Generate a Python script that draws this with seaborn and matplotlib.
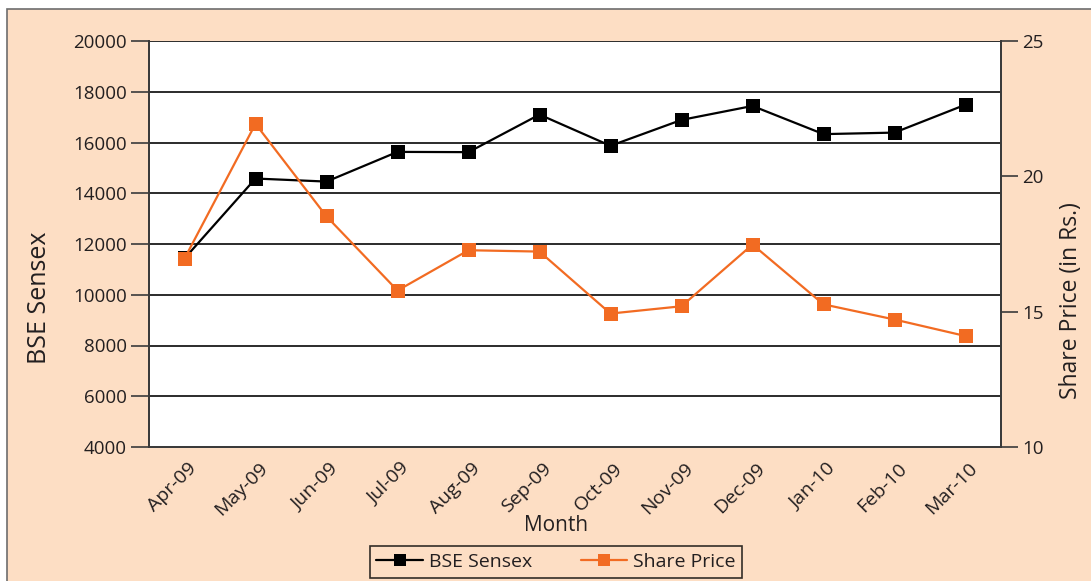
import matplotlib
matplotlib.use("Agg")
import matplotlib.pyplot as plt
import matplotlib.patches as mpatches
import matplotlib.transforms as mtransforms
from matplotlib.lines import Line2D
import seaborn as sns
import pandas as pd
import numpy as np

months = ["Apr-09", "May-09", "Jun-09", "Jul-09", "Aug-09", "Sep-09",
          "Oct-09", "Nov-09", "Dec-09", "Jan-10", "Feb-10", "Mar-10"]
sensex = [11430, 14580, 14460, 15630, 15620, 17100,
          15870, 16890, 17440, 16330, 16390, 17490]
share_price = [16.96, 21.94, 18.52, 15.78, 17.27, 17.22,
               14.93, 15.20, 17.48, 15.27, 14.71, 14.10]

df = pd.DataFrame({"pos": np.arange(len(months)), "Month": months,
                   "BSE Sensex": sensex, "Share Price": share_price})

sns.set_style("white")
plt.rcParams["font.family"] = ["Open Sans", "DejaVu Sans"]

PEACH = "#FDDEC4"
ORANGE = "#F26B22"
TXT = "#231F20"

fig = plt.figure(figsize=(10.91, 5.81), dpi=100, facecolor="white")
fig.patches.append(mpatches.Rectangle((7 / 1091, -0.5), 2.0, 1.5 - 9 / 581,
                                      transform=fig.transFigure,
                                      facecolor=PEACH, edgecolor="#6d6d6d",
                                      linewidth=1.2, zorder=-10))
ax = fig.add_axes([149 / 1091, 1 - 447 / 581, (1001 - 149) / 1091, (447 - 41) / 581])
ax.set_facecolor("white")
ax2 = ax.twinx()

sns.lineplot(data=df, x="pos", y="BSE Sensex", ax=ax, color="black",
             marker="s", markersize=10, markeredgewidth=0, linewidth=1.6,
             zorder=3)
sns.lineplot(data=df, x="pos", y="Share Price", ax=ax2, color=ORANGE,
             marker="s", markersize=10, markeredgewidth=0, linewidth=1.6,
             zorder=3)

ax.set_xlim(-0.5, len(months) - 0.5)
ax.set_ylim(4000, 20000)
ax.set_yticks(np.arange(4000, 20001, 2000))
ax2.set_ylim(10, 25)
ax2.set_yticks([10, 15, 20, 25])

for y in np.arange(6000, 20001, 2000):
    ax.axhline(y, color="#1a1a1a", linewidth=1.3, zorder=1)

# x ticks: labels at category centres, tick marks at boundaries
ax.set_xticks(np.arange(len(months)))
ax.set_xticklabels(months, rotation=45, ha="right", rotation_mode="anchor",
                   fontsize=14, color=TXT)
ax.tick_params(axis="x", which="major", length=0, pad=9)
shift = mtransforms.ScaledTranslation(0.03, 0, fig.dpi_scale_trans)
for lbl in ax.get_xticklabels():
    lbl.set_transform(lbl.get_transform() + shift)
ax.set_xticks(np.arange(-0.5, len(months), 1.0), minor=True)
ax.tick_params(axis="x", which="minor", length=8, width=1.2, color="#3a3a3a",
               direction="out")

ax.tick_params(axis="y", length=13, width=1.2, color="#3a3a3a", direction="out",
               labelsize=13.5, labelcolor=TXT, pad=3, left=True)
ax2.tick_params(axis="y", length=12, width=1.2, color="#3a3a3a", direction="out",
                labelsize=13.5, labelcolor=TXT, pad=3, right=True)

for a in (ax, ax2):
    for s in a.spines.values():
        s.set_color("#3a3a3a")
        s.set_linewidth(1.3)
    a.spines["top"].set_visible(False)

ax.set_xlabel("Month", fontsize=15, color=TXT)
ax.xaxis.set_label_coords((556 - 149) / 852, (447 - 515) / 406)
ax.set_ylabel("BSE Sensex", fontsize=18, color=TXT)
ax.yaxis.set_label_coords((52 - 149) / 852, (447 - 298) / 406)
ax2.set_ylabel("Share Price (in Rs.)", fontsize=16.5, color=TXT)
ax2.yaxis.set_label_coords((1059 - 149) / 852, (447 - 301) / 406)

handles = [Line2D([], [], color="black", marker="s", markersize=9, linewidth=1.6,
                  markeredgewidth=0),
           Line2D([], [], color=ORANGE, marker="s", markersize=9, linewidth=1.6,
                  markeredgewidth=0)]
leg = fig.legend(handles, ["BSE Sensex", "Share Price"], loc="center",
                 bbox_to_anchor=(556 / 1091, 1 - 562 / 581), ncol=2,
                 frameon=True, fancybox=False, edgecolor="black",
                 facecolor=PEACH, fontsize=14, handlelength=2.4,
                 columnspacing=2.5, borderpad=0.35, handletextpad=0.3)
leg.get_frame().set_linewidth(1.2)
for t in leg.get_texts():
    t.set_color(TXT)

fig.savefig("out.png", dpi=100, facecolor=fig.get_facecolor())
